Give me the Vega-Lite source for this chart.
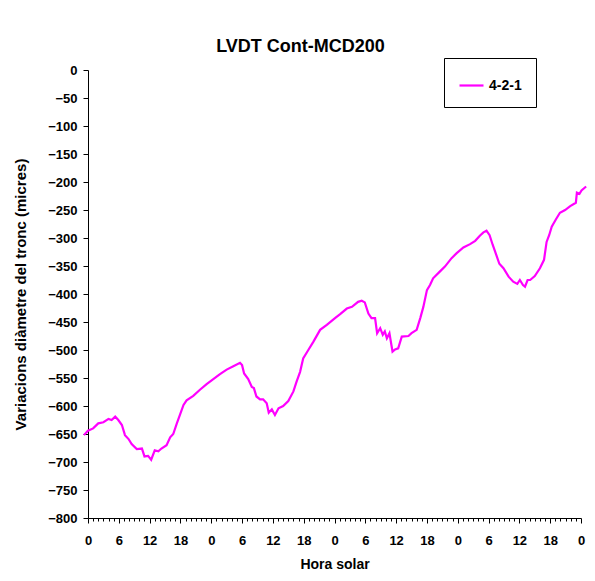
{
  "$schema": "https://vega.github.io/schema/vega-lite/v6.json",
  "autosize": {"type": "none"},
  "width": 493,
  "height": 448,
  "padding": {"left": 88, "top": 70, "right": 14, "bottom": 63},
  "background": "white",
  "title": {
    "text": "LVDT Cont-MCD200",
    "font": "Liberation Sans",
    "fontSize": 18,
    "fontWeight": "bold",
    "color": "black",
    "baseline": "alphabetic",
    "offset": 18,
    "dx": -34,
    "dy": 30
  },
  "config": {
    "view": {"stroke": null},
    "font": "Liberation Sans"
  },
  "data": {
    "values": [
      {"h": -0.8, "v": -652, "serie": "4-2-1"},
      {"h": 0, "v": -644, "serie": "4-2-1"},
      {"h": 1, "v": -640, "serie": "4-2-1"},
      {"h": 2, "v": -631, "serie": "4-2-1"},
      {"h": 3, "v": -629, "serie": "4-2-1"},
      {"h": 4, "v": -623, "serie": "4-2-1"},
      {"h": 4.6, "v": -625, "serie": "4-2-1"},
      {"h": 5.3, "v": -619, "serie": "4-2-1"},
      {"h": 5.9, "v": -625, "serie": "4-2-1"},
      {"h": 6.6, "v": -634, "serie": "4-2-1"},
      {"h": 7.2, "v": -652, "serie": "4-2-1"},
      {"h": 7.9, "v": -659, "serie": "4-2-1"},
      {"h": 8.5, "v": -668, "serie": "4-2-1"},
      {"h": 9.5, "v": -677, "serie": "4-2-1"},
      {"h": 10.5, "v": -676, "serie": "4-2-1"},
      {"h": 11, "v": -690, "serie": "4-2-1"},
      {"h": 11.7, "v": -689, "serie": "4-2-1"},
      {"h": 12.3, "v": -696, "serie": "4-2-1"},
      {"h": 13, "v": -679, "serie": "4-2-1"},
      {"h": 13.7, "v": -681, "serie": "4-2-1"},
      {"h": 14.3, "v": -676, "serie": "4-2-1"},
      {"h": 15.3, "v": -670, "serie": "4-2-1"},
      {"h": 16, "v": -656, "serie": "4-2-1"},
      {"h": 16.6, "v": -650, "serie": "4-2-1"},
      {"h": 17.3, "v": -631, "serie": "4-2-1"},
      {"h": 17.9, "v": -616, "serie": "4-2-1"},
      {"h": 18.6, "v": -598, "serie": "4-2-1"},
      {"h": 19.2, "v": -590, "serie": "4-2-1"},
      {"h": 20.5, "v": -582, "serie": "4-2-1"},
      {"h": 21.8, "v": -571, "serie": "4-2-1"},
      {"h": 23.1, "v": -561, "serie": "4-2-1"},
      {"h": 24.4, "v": -552, "serie": "4-2-1"},
      {"h": 25.7, "v": -543, "serie": "4-2-1"},
      {"h": 27, "v": -535, "serie": "4-2-1"},
      {"h": 28.3, "v": -529, "serie": "4-2-1"},
      {"h": 29.6, "v": -523, "serie": "4-2-1"},
      {"h": 30, "v": -527, "serie": "4-2-1"},
      {"h": 30.4, "v": -542, "serie": "4-2-1"},
      {"h": 31.2, "v": -552, "serie": "4-2-1"},
      {"h": 31.9, "v": -566, "serie": "4-2-1"},
      {"h": 32.3, "v": -568, "serie": "4-2-1"},
      {"h": 32.8, "v": -583, "serie": "4-2-1"},
      {"h": 33.5, "v": -588, "serie": "4-2-1"},
      {"h": 34.1, "v": -588, "serie": "4-2-1"},
      {"h": 34.8, "v": -595, "serie": "4-2-1"},
      {"h": 35.2, "v": -612, "serie": "4-2-1"},
      {"h": 35.8, "v": -606, "serie": "4-2-1"},
      {"h": 36.4, "v": -616, "serie": "4-2-1"},
      {"h": 37.1, "v": -604, "serie": "4-2-1"},
      {"h": 38, "v": -600, "serie": "4-2-1"},
      {"h": 39, "v": -591, "serie": "4-2-1"},
      {"h": 40, "v": -574, "serie": "4-2-1"},
      {"h": 40.6, "v": -557, "serie": "4-2-1"},
      {"h": 41.3, "v": -539, "serie": "4-2-1"},
      {"h": 41.9, "v": -515, "serie": "4-2-1"},
      {"h": 42.9, "v": -500, "serie": "4-2-1"},
      {"h": 43.9, "v": -485, "serie": "4-2-1"},
      {"h": 45.2, "v": -464, "serie": "4-2-1"},
      {"h": 46.5, "v": -455, "serie": "4-2-1"},
      {"h": 48.1, "v": -443, "serie": "4-2-1"},
      {"h": 49.1, "v": -436, "serie": "4-2-1"},
      {"h": 50.4, "v": -426, "serie": "4-2-1"},
      {"h": 51.4, "v": -423, "serie": "4-2-1"},
      {"h": 52.6, "v": -414, "serie": "4-2-1"},
      {"h": 53.3, "v": -412, "serie": "4-2-1"},
      {"h": 53.9, "v": -415, "serie": "4-2-1"},
      {"h": 54.6, "v": -435, "serie": "4-2-1"},
      {"h": 55.2, "v": -443, "serie": "4-2-1"},
      {"h": 55.9, "v": -443, "serie": "4-2-1"},
      {"h": 56.3, "v": -470, "serie": "4-2-1"},
      {"h": 56.9, "v": -461, "serie": "4-2-1"},
      {"h": 57.4, "v": -473, "serie": "4-2-1"},
      {"h": 57.8, "v": -467, "serie": "4-2-1"},
      {"h": 58.2, "v": -479, "serie": "4-2-1"},
      {"h": 58.7, "v": -470, "serie": "4-2-1"},
      {"h": 59.3, "v": -503, "serie": "4-2-1"},
      {"h": 59.8, "v": -499, "serie": "4-2-1"},
      {"h": 60.4, "v": -497, "serie": "4-2-1"},
      {"h": 61.1, "v": -476, "serie": "4-2-1"},
      {"h": 62.4, "v": -475, "serie": "4-2-1"},
      {"h": 63, "v": -470, "serie": "4-2-1"},
      {"h": 64, "v": -464, "serie": "4-2-1"},
      {"h": 64.7, "v": -443, "serie": "4-2-1"},
      {"h": 65.3, "v": -423, "serie": "4-2-1"},
      {"h": 66, "v": -393, "serie": "4-2-1"},
      {"h": 66.6, "v": -384, "serie": "4-2-1"},
      {"h": 67.2, "v": -372, "serie": "4-2-1"},
      {"h": 68.5, "v": -360, "serie": "4-2-1"},
      {"h": 69.5, "v": -351, "serie": "4-2-1"},
      {"h": 70.8, "v": -336, "serie": "4-2-1"},
      {"h": 71.8, "v": -327, "serie": "4-2-1"},
      {"h": 73.1, "v": -317, "serie": "4-2-1"},
      {"h": 74.4, "v": -311, "serie": "4-2-1"},
      {"h": 75.4, "v": -305, "serie": "4-2-1"},
      {"h": 76.3, "v": -296, "serie": "4-2-1"},
      {"h": 77, "v": -290, "serie": "4-2-1"},
      {"h": 77.6, "v": -287, "serie": "4-2-1"},
      {"h": 78.2, "v": -295, "serie": "4-2-1"},
      {"h": 78.8, "v": -312, "serie": "4-2-1"},
      {"h": 79.5, "v": -330, "serie": "4-2-1"},
      {"h": 80.1, "v": -346, "serie": "4-2-1"},
      {"h": 80.9, "v": -354, "serie": "4-2-1"},
      {"h": 81.9, "v": -369, "serie": "4-2-1"},
      {"h": 82.8, "v": -378, "serie": "4-2-1"},
      {"h": 83.6, "v": -382, "serie": "4-2-1"},
      {"h": 84.1, "v": -375, "serie": "4-2-1"},
      {"h": 84.7, "v": -384, "serie": "4-2-1"},
      {"h": 85.1, "v": -387, "serie": "4-2-1"},
      {"h": 85.6, "v": -375, "serie": "4-2-1"},
      {"h": 86.1, "v": -375, "serie": "4-2-1"},
      {"h": 87, "v": -368, "serie": "4-2-1"},
      {"h": 88, "v": -354, "serie": "4-2-1"},
      {"h": 88.8, "v": -339, "serie": "4-2-1"},
      {"h": 89.3, "v": -307, "serie": "4-2-1"},
      {"h": 89.8, "v": -295, "serie": "4-2-1"},
      {"h": 90.3, "v": -280, "serie": "4-2-1"},
      {"h": 91.1, "v": -267, "serie": "4-2-1"},
      {"h": 91.9, "v": -255, "serie": "4-2-1"},
      {"h": 92.9, "v": -250, "serie": "4-2-1"},
      {"h": 93.9, "v": -243, "serie": "4-2-1"},
      {"h": 95, "v": -237, "serie": "4-2-1"},
      {"h": 95.2, "v": -219, "serie": "4-2-1"},
      {"h": 95.7, "v": -221, "serie": "4-2-1"},
      {"h": 96.1, "v": -215, "serie": "4-2-1"},
      {"h": 97, "v": -208, "serie": "4-2-1"}
    ]
  },
  "mark": {"type": "line", "strokeWidth": 2.2, "clip": false, "interpolate": "linear"},
  "encoding": {
    "x": {
      "field": "h",
      "type": "quantitative",
      "scale": {"domain": [0, 96], "nice": false, "zero": false},
      "axis": {
        "title": "Hora solar",
        "titleFont": "Liberation Sans",
        "titleFontSize": 14,
        "titleFontWeight": "bold",
        "titleColor": "black",
        "titlePadding": 10,
        "values": [0,1,2,3,4,5,6,7,8,9,10,11,12,13,14,15,16,17,18,19,20,21,22,23,24,25,26,27,28,29,30,31,32,33,34,35,36,37,38,39,40,41,42,43,44,45,46,47,48,49,50,51,52,53,54,55,56,57,58,59,60,61,62,63,64,65,66,67,68,69,70,71,72,73,74,75,76,77,78,79,80,81,82,83,84,85,86,87,88,89,90,91,92,93,94,95,96],
        "labelExpr": "datum.value % 6 === 0 ? '' + (datum.value % 24) : ''",
        "labelOverlap": false,
        "labelFlush": false,
        "labelFont": "Liberation Sans",
        "labelFontSize": 13,
        "labelFontWeight": "bold",
        "labelColor": "black",
        "labelPadding": 11,
        "grid": false,
        "domainColor": "black",
        "domainWidth": 1,
        "tickColor": "black",
        "tickWidth": 1,
        "tickSize": {"condition": {"test": "datum.value % 6 === 0", "value": 5}, "value": 3}
      }
    },
    "y": {
      "field": "v",
      "type": "quantitative",
      "scale": {"domain": [-800, 0], "nice": false, "zero": false},
      "axis": {
        "title": "Variacions diàmetre del tronc (micres)",
        "titleFont": "Liberation Sans",
        "titleFontSize": 15,
        "titleFontWeight": "bold",
        "titleColor": "black",
        "titlePadding": 19,
        "values": [0,-50,-100,-150,-200,-250,-300,-350,-400,-450,-500,-550,-600,-650,-700,-750,-800],
        "labelFont": "Liberation Sans",
        "labelFontSize": 13,
        "labelFontWeight": "bold",
        "labelColor": "black",
        "labelPadding": 6,
        "labelFlush": false,
        "labelOverlap": false,
        "grid": false,
        "domainColor": "black",
        "domainWidth": 1,
        "tickColor": "black",
        "tickSize": 5
      }
    },
    "color": {
      "field": "serie",
      "type": "nominal",
      "scale": {"range": ["#FF00FF"]},
      "legend": {
        "title": null,
        "orient": "none",
        "legendX": 356,
        "legendY": -12,
        "strokeColor": "black",
        "fillColor": "white",
        "padding": 14,
        "symbolType": "stroke",
        "symbolSize": 576,
        "symbolStrokeWidth": 2.2,
        "labelFont": "Liberation Sans",
        "labelFontSize": 14,
        "labelFontWeight": "bold",
        "labelColor": "black",
        "labelOffset": 4,
        "labelLimit": 200
      }
    }
  }
}
